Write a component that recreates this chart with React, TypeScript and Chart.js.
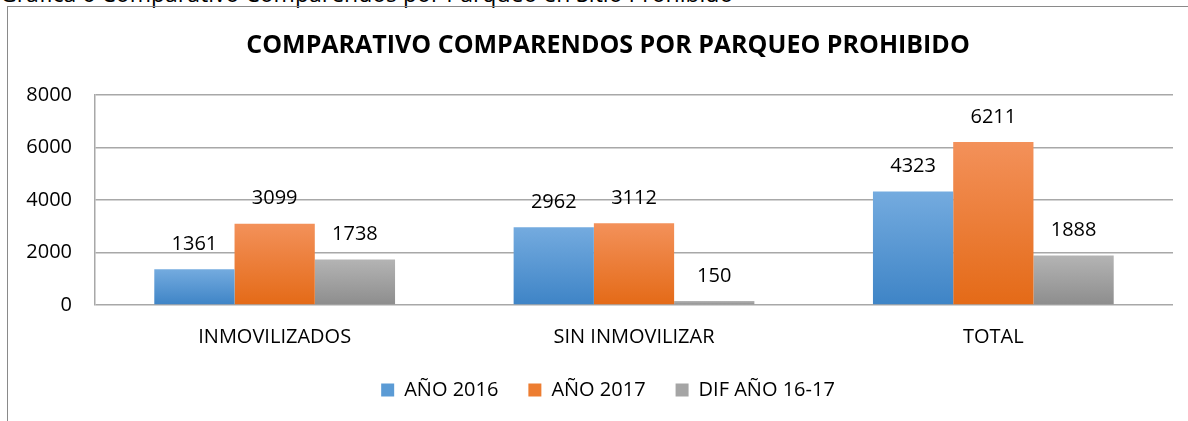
import React, { useEffect, useRef } from "react";
import { Chart, registerables } from "chart.js";

Chart.register(...registerables);

const categories = ["INMOVILIZADOS", "SIN INMOVILIZAR", "TOTAL"];
const seriesNames = ["AÑO 2016", "AÑO 2017", "DIF AÑO 16-17"];
const values2016 = [1361, 2962, 4323];
const values2017 = [3099, 3112, 6211];
const valuesDif = [1738, 150, 1888];
const yTicks = [0, 2000, 4000, 6000, 8000];

const chartTitle = "COMPARATIVO COMPARENDOS POR PARQUEO PROHIBIDO";
const caption = "Gráfica 6 Comparativo Comparendos por Parqueo en Sitio Prohibido";

const palette = [
  { top: "#74abdf", bottom: "#3e84c6", solid: "#5b9bd5" },
  { top: "#f3915a", bottom: "#e46a17", solid: "#ed7d31" },
  { top: "#b4b4b4", bottom: "#8d8d8d", solid: "#a5a5a5" },
];

const FONT = "'Open Sans', sans-serif";

function gradientFor(idx: number) {
  return (ctx: any) => {
    const chart = ctx.chart;
    const p = palette[idx];
    if (ctx.type !== "data" || !chart.chartArea || !chart.scales || !chart.scales.y) return p.solid;
    const y = chart.scales.y;
    const v = ctx.raw as number;
    const yTop = y.getPixelForValue(v);
    const yBot = y.getPixelForValue(0);
    if (!isFinite(yTop) || !isFinite(yBot) || yTop === yBot) return p.solid;
    const g = chart.ctx.createLinearGradient(0, yTop, 0, yBot);
    g.addColorStop(0, p.top);
    g.addColorStop(1, p.bottom);
    return g;
  };
}

const valueLabels = {
  id: "valueLabels",
  afterDatasetsDraw(chart: any) {
    const c = chart.ctx;
    c.save();
    c.font = `20px ${FONT}`;
    c.fillStyle = "#000";
    c.textAlign = "center";
    c.textBaseline = "middle";
    chart.data.datasets.forEach((ds: any, i: number) => {
      const meta = chart.getDatasetMeta(i);
      meta.data.forEach((el: any, j: number) => {
        c.fillText(String(ds.data[j]), el.x, el.y - 25);
      });
    });
    c.restore();
  },
};

export default function App() {
  const ref = useRef<HTMLCanvasElement | null>(null);

  useEffect(() => {
    if (!ref.current) return;
    const seriesValues = [values2016, values2017, valuesDif];
    const chart = new Chart(ref.current, {
      type: "bar",
      data: {
        labels: categories,
        datasets: seriesNames.map((name, i) => ({
          label: name,
          data: seriesValues[i],
          backgroundColor: gradientFor(i),
          borderWidth: 0,
          categoryPercentage: 0.67,
          barPercentage: 1,
          yAxisID: "y",
        })),
      },
      options: {
        responsive: false,
        animation: false,
        devicePixelRatio: 1,
        layout: { padding: { left: 0, right: 0, top: 0, bottom: 11 } },
        plugins: {
          title: {
            display: true,
            text: chartTitle,
            color: "#000",
            font: { family: FONT, size: 25, weight: "bold" },
            padding: { top: 24, bottom: 34 },
          },
          legend: {
            display: true,
            position: "bottom",
            labels: {
              boxWidth: 13,
              boxHeight: 13,
              padding: 30,
              color: "#000",
              font: { family: FONT, size: 20 },
              generateLabels: (ch: any) =>
                ch.data.datasets.map((ds: any, i: number) => ({
                  text: ds.label,
                  fillStyle: palette[i].solid,
                  strokeStyle: palette[i].solid,
                  lineWidth: 0,
                  hidden: false,
                  datasetIndex: i,
                })),
            },
          },
          tooltip: { enabled: false },
        },
        scales: {
          x: {
            grid: { display: false, drawTicks: false },
            border: { display: false },
            ticks: {
              color: "#000",
              font: { family: FONT, size: 20 },
              padding: 20,
            },
            afterFit: (s: any) => {
              s.height = 45;
            },
          },
          y: {
            min: 0,
            max: 8000,
            afterBuildTicks: (s: any) => {
              s.ticks = yTicks.map((v) => ({ value: v }));
            },
            grid: { color: "#a8a8a8", lineWidth: 1.5, drawTicks: false },
            border: { display: true, color: "#a8a8a8", width: 1.5 },
            ticks: {
              color: "#000",
              font: { family: FONT, size: 20 },
              padding: 23,
              callback: (v: any) => String(v),
            },
            afterFit: (s: any) => {
              s.width = 87;
            },
          },
          spacer: {
            type: "linear",
            position: "right",
            display: true,
            grid: { display: false, drawTicks: false },
            border: { display: false },
            ticks: { display: false },
            afterFit: (s: any) => {
              s.width = 35;
            },
          },
        },
      },
      plugins: [valueLabels],
    });
    return () => chart.destroy();
  }, []);

  return (
    <div
      style={{
        position: "fixed",
        left: 0,
        top: 0,
        width: 1188,
        height: 421,
        overflow: "hidden",
        background: "#fff",
      }}
    >
      <div
        style={{
          position: "absolute",
          left: 0,
          top: -21,
          font: `23px ${FONT}`,
          lineHeight: "28px",
          whiteSpace: "nowrap",
          color: "#000",
        }}
      >
        {caption}
      </div>
      <div
        style={{
          position: "absolute",
          left: 7,
          top: 6,
          width: 1300,
          height: 500,
          borderLeft: "1px solid #8a8a8a",
          borderTop: "1px solid #8a8a8a",
        }}
      >
        <canvas ref={ref} width={1200} height={414} style={{ display: "block" }} />
      </div>
    </div>
  );
}
